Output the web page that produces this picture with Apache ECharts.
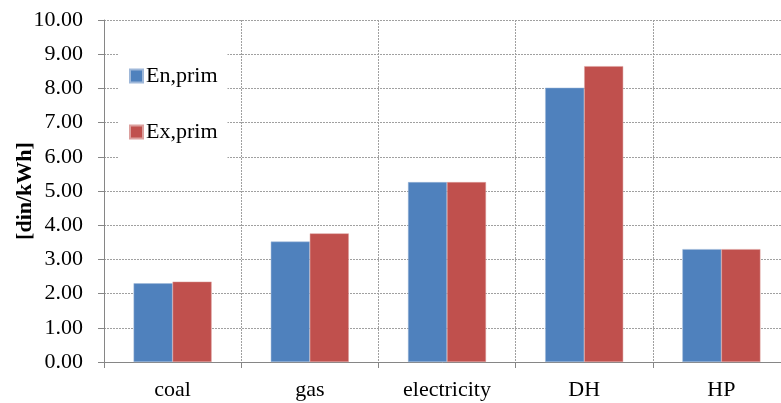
<!DOCTYPE html>
<html>
<head>
<meta charset="utf-8">
<script src="https://cdn.jsdelivr.net/npm/echarts@6/dist/echarts.min.js"></script>
<style>html,body{margin:0;padding:0;background:#fff}#c{width:781px;height:403px}</style>
</head>
<body>
<div id="c"></div>
<script>
const categories = ['coal', 'gas', 'electricity', 'DH', 'HP'];
const enPrim = [2.30, 3.52, 5.26, 8.02, 3.30];
const exPrim = [2.35, 3.76, 5.26, 8.65, 3.30];
const yTicks = { min: 0, max: 10, interval: 1 };

const font = '"Liberation Serif", "Times New Roman", serif';
const gridLine = { type: [2, 1], color: '#a0a0a0', width: 1 };
const chart = echarts.init(document.getElementById('c'), null, { renderer: 'canvas' });
chart.setOption({
  animation: false,
  backgroundColor: '#ffffff',
  textStyle: { fontFamily: font },
  grid: { left: 104, top: 20, width: 686, bottom: 41, containLabel: false, outerBoundsMode: 'none' },
  legend: {
    orient: 'vertical',
    left: 118, top: 45,
    padding: [20, 10, 19, 11],
    backgroundColor: '#ffffff',
    itemWidth: 13, itemHeight: 13, itemGap: 34,
    icon: 'rect',
    textStyle: { fontFamily: font, fontSize: 22, color: '#000', padding: [0, 0, 0, -2] },
    data: ['En,prim', 'Ex,prim']
  },
  xAxis: {
    type: 'category',
    data: categories,
    boundaryGap: true,
    axisLine: { lineStyle: { color: '#868686', width: 1 } },
    axisTick: { show: true, length: 6, lineStyle: { color: '#868686' } },
    axisLabel: { fontFamily: font, fontSize: 22, color: '#000', margin: 17 },
    splitLine: { show: true, lineStyle: gridLine }
  },
  yAxis: {
    type: 'value',
    min: yTicks.min, max: yTicks.max, interval: yTicks.interval,
    name: '[din/kWh]',
    nameLocation: 'middle',
    nameGap: 68,
    nameMoveOverlap: false,
    nameTextStyle: { fontFamily: font, fontSize: 22, fontWeight: 'bold', color: '#000' },
    axisLine: { show: true, lineStyle: { color: '#868686', width: 1 } },
    axisTick: { show: true, length: 6, lineStyle: { color: '#868686' } },
    axisLabel: { fontFamily: font, fontSize: 22, color: '#000', margin: 21,
      formatter: v => v.toFixed(2) },
    splitLine: { show: true, lineStyle: gridLine }
  },
  series: [
    { name: 'En,prim', type: 'bar', data: enPrim, barWidth: 39, barGap: '0%',
      itemStyle: { color: '#4F81BD', borderColor: '#9fb8d9', borderWidth: 0.5 }, z: 3 },
    { name: 'Ex,prim', type: 'bar', data: exPrim, barWidth: 39, barGap: '0%',
      itemStyle: { color: '#C0504D', borderColor: '#dca09e', borderWidth: 0.5 }, z: 3 }
  ]
});
</script>
</body>
</html>
